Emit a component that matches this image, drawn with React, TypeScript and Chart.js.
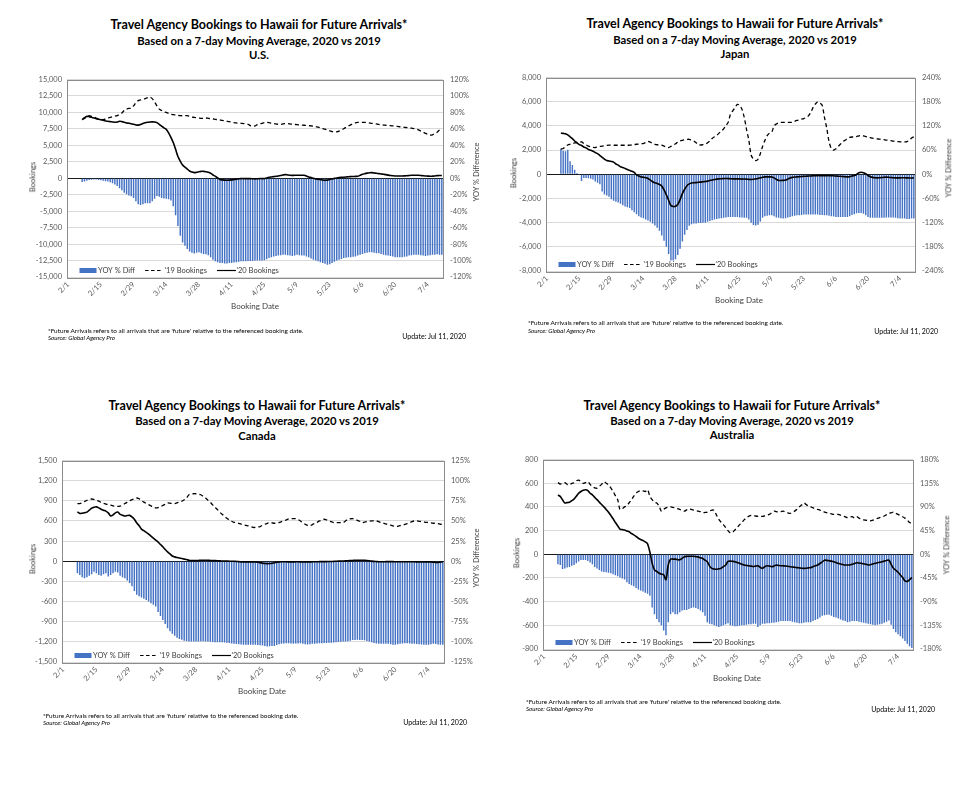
import React, { useEffect, useRef } from "react";
import { Chart, registerables } from "chart.js";

Chart.register(...registerables);
Chart.defaults.font.family = "Lato, 'Open Sans', sans-serif";

// ---------- categories ----------
const MONTHS = [2, 3, 4, 5, 6, 7];
const MONTH_LENGTHS = [29, 31, 30, 31, 30, 10];
const dates: string[] = [];
MONTHS.forEach((m, k) => {
  for (let d = 1; d <= MONTH_LENGTHS[k]; d++) dates.push(`${m}/${d}`);
});
const tickLabels = ["2/1", "2/15", "2/29", "3/14", "3/28", "4/11", "4/25", "5/9", "5/23", "6/6", "6/20", "7/4"];
const LEAD = 6; // series start on 2/7 (first 7-day average)

const legendLabels = ["YOY % Diff", "'19 Bookings", "'20 Bookings"];

// ---------- U.S. ----------
const usYoy = [
  -4.5, -4, -3, -2, -1.8, -1.5, -1.6, -2, -2.4, -3,
  -3.5, -4, -5, -6, -7.5, -9.5, -12, -14.5, -17.5, -19.5,
  -21, -22, -24, -28, -31.5, -32.5, -31.5, -30.5, -30.5, -30.5,
  -28, -25, -21.5, -22.5, -24, -24.5, -25, -25.5, -27, -34,
  -45, -58, -70, -78, -82, -86, -89, -90.5, -91.5, -90.5,
  -90, -91, -92, -92.5, -93.5, -96, -99, -101, -102, -103,
  -103, -103.5, -103.5, -103, -103, -102.5, -102, -101.5, -101, -101,
  -101, -100.5, -100.5, -100.5, -100, -100, -100, -100, -99.5, -98.5,
  -97, -96, -95, -94.5, -94, -93.5, -93, -93, -93.5, -94,
  -94.5, -94, -93, -93.5, -94, -94, -95, -96, -97.5, -99,
  -100, -101, -102, -103, -104, -105, -104.5, -103, -101.5, -100,
  -99, -98, -97, -96.5, -96, -96, -95.5, -95, -94, -93,
  -92, -91, -90.5, -90, -90, -90.5, -91, -91, -92, -93,
  -93.5, -94, -94.5, -95, -96, -96, -96, -96, -95.5, -95,
  -94, -93.5, -93, -93, -93, -93.5, -94, -94.5, -94, -93.5,
  -93, -93, -92.5, -93, -93,
];
const us2019 = [
  8900, 9100, 9300, 9500, 9400, 9300, 9150, 9000, 8950, 8900,
  9000, 9150, 9250, 9350, 9450, 9500, 9700, 9900, 10300, 10500,
  10600, 10650, 11000, 11500, 11800, 11900, 12000, 12100, 12250, 12350,
  12100, 11600, 11000, 10500, 10300, 10100, 10000, 9850, 9750, 9650,
  9600, 9550, 9500, 9500, 9500, 9500, 9400, 9300, 9250, 9200,
  9150, 9100, 9100, 9150, 9100, 9050, 9000, 8950, 8900, 8850,
  8800, 8700, 8650, 8600, 8500, 8450, 8400, 8350, 8350, 8300,
  8300, 8200, 8000, 7900, 7950, 8150, 8250, 8350, 8450, 8500,
  8450, 8350, 8300, 8250, 8200, 8170, 8250, 8300, 8300, 8250,
  8200, 8170, 8150, 8100, 8070, 8050, 8020, 8000, 7950, 7920,
  7850, 7750, 7670, 7550, 7450, 7320, 7200, 7100, 7020, 7050,
  7150, 7350, 7520, 7750, 7950, 8100, 8300, 8420, 8480, 8500,
  8500, 8480, 8450, 8400, 8350, 8320, 8250, 8180, 8120, 8080,
  8050, 8020, 7980, 7950, 7920, 7870, 7820, 7770, 7730, 7700,
  7670, 7600, 7550, 7480, 7350, 7170, 7000, 6820, 6680, 6570,
  6600, 6800, 7000, 7320, 7550,
];
const us2020 = [
  8900, 9200, 9400, 9350, 9250, 9150, 9050, 8950, 8900, 8800,
  8700, 8650, 8600, 8550, 8500, 8550, 8650, 8600, 8500, 8400,
  8350, 8270, 8200, 8100, 8070, 8150, 8300, 8420, 8500, 8550,
  8570, 8550, 8450, 8200, 7920, 7650, 7420, 6900, 6200, 5430,
  4400, 3300, 2600, 2000, 1690, 1400, 1100, 950, 850, 900,
  1000, 1050, 1050, 1000, 900, 750, 500, 300, 50, -200,
  -250, -280, -300, -280, -250, -200, -150, -100, -50, -50,
  -50, -50, -60, -80, -100, -80, -50, -50, -50, 50,
  150, 200, 250, 300, 350, 420, 500, 550, 500, 450,
  430, 450, 450, 450, 450, 450, 350, 200, 100, 0,
  -100, -150, -200, -270, -300, -280, -180, -100, -20, 50,
  100, 130, 150, 180, 230, 250, 270, 280, 300, 450,
  600, 700, 780, 830, 850, 800, 750, 700, 650, 600,
  550, 480, 420, 380, 350, 350, 350, 350, 360, 380,
  420, 450, 450, 450, 450, 420, 380, 350, 330, 300,
  320, 350, 400, 420, 400,
];

// ---------- Japan ----------
const jpYoy = [
  63, 58, 57, 61, 32, 23, 11, 3, -1.6, -17,
  -9, -9, -10, -11, -13, -18, -21, -25, -43, -50,
  -53, -56, -62, -66, -68, -70, -73, -77, -80, -82,
  -84, -89, -94, -99, -104, -107, -109, -112, -115, -118,
  -122, -127, -133, -140, -152, -165, -180, -198, -214, -214,
  -211, -200, -185, -167, -150, -138, -128, -124, -122, -122,
  -121, -121, -120, -120, -118, -116, -114, -112, -111, -110,
  -109, -108, -107, -106, -106, -106, -106, -106, -107, -107,
  -108, -108, -112, -120, -126, -127, -125, -117, -108, -104,
  -103, -102, -102, -104, -107, -108, -109, -110, -109, -107,
  -106, -104, -103, -102, -102, -101, -100, -100, -100, -100,
  -100, -100, -100, -101, -101, -102, -102, -103, -104, -105,
  -106, -106, -106, -106, -106, -106, -104, -101, -99, -97,
  -96, -96, -98, -102, -106, -108, -108, -108, -108, -108,
  -108, -108, -107, -107, -107, -107, -108, -109, -110, -110,
  -110, -111, -111, -110, -110,
];
const jp2019 = [
  2080, 2130, 2300, 2420, 2480, 2540, 2590, 2620, 2650, 2670,
  2550, 2430, 2330, 2270, 2220, 2210, 2250, 2300, 2320, 2360,
  2390, 2400, 2400, 2400, 2400, 2400, 2400, 2400, 2400, 2400,
  2400, 2420, 2450, 2480, 2500, 2520, 2540, 2620, 2720, 2650,
  2550, 2480, 2440, 2420, 2400, 2330, 2250, 2210, 2300, 2400,
  2520, 2650, 2750, 2810, 2850, 2880, 2890, 2820, 2750, 2600,
  2450, 2420, 2450, 2480, 2600, 2750, 2950, 3100, 3210, 3400,
  3560, 3750, 4020, 4300, 4970, 5250, 5510, 5780, 5700, 5370,
  4700, 3700, 2810, 1590, 1250, 1130, 1240, 1700, 2300, 2800,
  3200, 3400, 3480, 4000, 4160, 4250, 4290, 4290, 4290, 4290,
  4290, 4300, 4380, 4450, 4500, 4560, 4600, 4700, 4830, 5100,
  5510, 5800, 5990, 5900, 5700, 4700, 3800, 2700, 2130, 2000,
  2100, 2300, 2500, 2700, 2810, 2950, 3050, 3080, 3080, 3120,
  3180, 3210, 3180, 3120, 3080, 3030, 2980, 2940, 2920, 2900,
  2890, 2860, 2830, 2810, 2780, 2740, 2720, 2700, 2680, 2670,
  2680, 2700, 2800, 3000, 3100,
];
const jp2020 = [
  3400, 3380, 3350, 3250, 3100, 2950, 2750, 2600, 2450, 2380,
  2250, 2180, 2050, 1980, 1900, 1800, 1700, 1550, 1400, 1250,
  1130, 1100, 1060, 1000, 850, 750, 620, 560, 480, 400,
  320, 240, 150, -50, -150, -220, -250, -290, -350, -480,
  -620, -700, -760, -850, -970, -1300, -1700, -2150, -2590, -2670,
  -2650, -2500, -2100, -1600, -1240, -950, -800, -720, -700, -690,
  -660, -650, -620, -600, -570, -520, -470, -430, -400, -380,
  -370, -360, -350, -360, -370, -380, -380, -380, -380, -400,
  -390, -400, -420, -430, -420, -380, -350, -300, -250, -220,
  -220, -220, -220, -300, -420, -510, -520, -510, -480, -400,
  -320, -260, -230, -220, -200, -180, -170, -160, -150, -140,
  -130, -120, -110, -110, -110, -110, -110, -110, -120, -130,
  -150, -160, -170, -190, -210, -220, -200, -150, -110, -20,
  120, 160, 130, 50, -100, -200, -260, -290, -300, -290,
  -270, -250, -240, -250, -270, -290, -300, -300, -300, -290,
  -290, -300, -310, -310, -300,
];

// ---------- Canada ----------
const caYoy = [
  -15, -17, -20, -21, -20, -18, -16, -13, -15, -17,
  -18, -16, -15, -19, -17, -15, -13, -14, -18, -20,
  -21, -24, -27, -31, -37, -41.5, -43.5, -45, -46.5, -48,
  -50, -52, -54, -56, -63, -68, -73, -78, -83, -87,
  -90, -92.5, -95, -96.5, -97.5, -98.5, -99, -99.5, -99.5, -99.7,
  -99.7, -99.5, -99.3, -99.3, -99.5, -99.7, -100, -100.2, -100.4, -100.4,
  -100.4, -100.6, -100.8, -101, -101.5, -102, -102.5, -102.8, -103, -103.3,
  -103.5, -103.7, -103.7, -103.7, -103.7, -103.7, -104, -104.2, -104.5, -105,
  -105.7, -105.5, -105.2, -105, -104, -103, -102.5, -102, -101.7, -101.7,
  -102, -102.5, -102.2, -102, -101.7, -102.3, -103, -103.3, -103, -102.5,
  -102.5, -102, -101.7, -101.7, -101.5, -101.3, -101.2, -101, -100.9, -100.6,
  -100.3, -100, -99.7, -99.5, -99.2, -98.5, -97.8, -97.6, -97.5, -97.6,
  -97.6, -98, -99, -99.7, -100.5, -101.5, -102, -102.5, -102.5, -102.5,
  -102.5, -102.5, -103, -103.5, -103.7, -103, -102.5, -102, -101.8, -101.7,
  -102, -102.3, -102.5, -102.8, -103.1, -103.3, -103.5, -103.7, -103.5, -103,
  -102.5, -102.8, -103.2, -103.7, -103.5,
];
const ca2019 = [
  859, 859, 870, 890, 908, 920, 927, 920, 908, 895,
  875, 862, 852, 844, 835, 825, 820, 818, 820, 838,
  859, 880, 900, 917, 930, 942, 930, 903, 880, 860,
  844, 825, 805, 795, 800, 815, 830, 850, 869, 865,
  860, 859, 870, 885, 893, 915, 942, 990, 1000, 1005,
  1005, 1000, 990, 965, 942, 910, 878, 840, 805, 770,
  730, 698, 670, 640, 615, 595, 580, 576, 565, 551,
  545, 535, 527, 515, 505, 503, 510, 517, 535, 551,
  565, 576, 572, 566, 570, 576, 590, 600, 615, 630,
  634, 634, 634, 620, 600, 575, 551, 535, 527, 545,
  566, 580, 600, 612, 625, 615, 600, 590, 576, 576,
  576, 576, 576, 600, 625, 632, 634, 620, 610, 595,
  576, 583, 590, 595, 600, 600, 600, 590, 575, 566,
  555, 545, 537, 527, 517, 520, 530, 537, 548, 561,
  575, 590, 600, 600, 595, 590, 585, 580, 576, 570,
  566, 566, 560, 551, 548,
];
const ca2020 = [
  735, 712, 715, 722, 732, 760, 790, 805, 810, 795,
  775, 760, 747, 720, 675, 690, 720, 732, 698, 685,
  673, 680, 683, 660, 625, 570, 530, 478, 455, 430,
  405, 375, 345, 315, 285, 250, 215, 175, 140, 110,
  78, 65, 55, 49, 40, 32, 25, 15, 10, 10,
  10, 12, 14, 15, 15, 14, 12, 10, 10, 8,
  5, 4, 3, 2, 1, 0, 0, -3, -6, -10,
  -10, -10, -10, -10, -10, -12, -15, -20, -28, -34,
  -36, -34, -30, -22, -15, -10, -8, -8, -8, -10,
  -10, -10, -8, -8, -10, -12, -12, -10, -10, -8,
  -8, -8, -6, -6, -5, -5, -4, -4, -2, 0,
  2, 3, 4, 5, 8, 10, 12, 15, 16, 15,
  15, 14, 12, 8, 2, -2, -5, -8, -8, -8,
  -6, -5, -5, -6, -7, -8, -8, -8, -8, -8,
  -8, -7, -8, -10, -12, -12, -12, -10, -10, -12,
  -15, -18, -18, -12, -10,
];

// ---------- Australia ----------
const auYoy = [
  -19, -20.5, -28, -27, -25, -24, -22, -20.5, -17, -14,
  -11, -11, -11, -13, -15.5, -19, -24, -27, -30, -33,
  -33.5, -34, -35, -36, -38, -40, -42, -44, -46, -48,
  -53, -56.5, -59, -61, -64, -67, -69, -71, -73, -75,
  -79, -101, -114, -123, -129, -135, -145, -154, -129, -114,
  -110, -114, -114, -110, -107, -106, -106, -104, -102, -101,
  -102, -104, -107, -110, -117, -129, -132, -133, -135, -137,
  -138, -137, -135, -133, -131, -135, -136, -137, -137, -136,
  -135, -135, -134, -133, -133, -132, -132, -138, -135, -132,
  -132, -131, -131, -130, -130, -129, -128, -127, -127, -127,
  -127, -127, -128, -129, -130, -131, -131, -130, -129, -129,
  -129, -127, -125, -123, -120, -117, -116, -115, -115, -117,
  -119, -120, -122, -124, -126, -127, -129, -128, -127, -127,
  -127, -128, -129, -130, -131, -132, -133, -134, -135, -134,
  -133, -132, -130, -128, -126, -134, -142, -148, -152, -156,
  -160, -165, -170, -175, -178,
];
const au2019 = [
  605, 593, 600, 604, 590, 585, 598, 604, 620, 626,
  613, 599, 605, 613, 590, 571, 560, 558, 575, 590,
  613, 600, 585, 560, 530, 495, 461, 378, 385, 400,
  411, 435, 461, 490, 516, 530, 538, 535, 530, 544,
  490, 461, 440, 433, 406, 364, 380, 392, 398, 400,
  395, 392, 385, 378, 370, 364, 375, 384, 378, 373,
  368, 364, 360, 351, 353, 356, 365, 373, 370, 330,
  295, 270, 250, 225, 199, 180, 185, 205, 226, 248,
  268, 290, 309, 320, 328, 325, 323, 320, 317, 320,
  323, 330, 337, 350, 364, 360, 356, 360, 364, 355,
  350, 345, 355, 364, 380, 400, 415, 433, 420, 406,
  400, 392, 384, 378, 373, 365, 356, 350, 345, 341,
  337, 337, 337, 330, 323, 316, 309, 313, 317, 306,
  317, 305, 295, 290, 287, 284, 282, 288, 295, 302,
  309, 316, 323, 335, 345, 350, 356, 345, 337, 325,
  317, 305, 290, 268, 262,
];
const au2020 = [
  500, 489, 460, 433, 436, 439, 452, 466, 490, 515,
  530, 540, 544, 538, 515, 502, 480, 461, 440, 420,
  400, 378, 355, 328, 300, 268, 240, 213, 208, 204,
  197, 190, 175, 163, 150, 135, 125, 116, 105, 88,
  19, -77, -132, -145, -160, -168, -174, -215, -91, -41,
  -41, -41, -45, -47, -35, -22, -18, -17, -17, -17,
  -20, -22, -30, -36, -50, -63, -100, -119, -125, -127,
  -123, -119, -105, -91, -60, -58, -60, -63, -70, -77,
  -85, -91, -95, -97, -100, -105, -100, -97, -110, -119,
  -105, -97, -100, -105, -100, -91, -95, -97, -98, -99,
  -102, -105, -108, -110, -113, -115, -118, -119, -118, -115,
  -113, -105, -98, -91, -78, -65, -50, -52, -55, -58,
  -64, -70, -77, -82, -87, -91, -91, -91, -85, -78,
  -72, -74, -77, -80, -85, -91, -88, -82, -77, -72,
  -68, -63, -58, -52, -50, -85, -119, -135, -152, -175,
  -196, -225, -229, -215, -196,
];

// ---------- axis ranges ----------
const usAxis = { lmax: 15000, lstep: 2500, rmax: 120, rstep: 20 };
const jpAxis = { lmax: 8000, lstep: 2000, rmax: 240, rstep: 60 };
const caAxis = { lmax: 1500, lstep: 300, rmax: 125, rstep: 25 };
const auAxis = { lmax: 800, lstep: 200, rmax: 180, rstep: 45 };

type Geo = {
  l: number; t: number; w: number; h: number;
  titleX: number; titleY: number[];
  bookX: number; bookY: number; yoyX: number; yoyY: number;
  dateX: number; dateY: number;
  fnX: number; fnY: number[]; updR: number; updY: number;
};

type PanelDef = {
  region: string;
  yoy: number[]; y19: number[]; y20: number[];
  axis: { lmax: number; lstep: number; rmax: number; rstep: number };
  geo: Geo;
};

const panels: PanelDef[] = [
  {
    region: "U.S.", yoy: usYoy, y19: us2019, y20: us2020, axis: usAxis,
    geo: { l: 67, t: 76, w: 376, h: 201, titleX: 259, titleY: [25, 41, 55],
      bookX: 33, bookY: 177, yoyX: 477, yoyY: 172, dateX: 255, dateY: 306,
      fnX: 48, fnY: [331, 338], updR: 466, updY: 336 },
  },
  {
    region: "Japan", yoy: jpYoy, y19: jp2019, y20: jp2020, axis: jpAxis,
    geo: { l: 546, t: 74, w: 369, h: 197, titleX: 735, titleY: [24, 40, 54],
      bookX: 514, bookY: 173, yoyX: 949, yoyY: 168, dateX: 739, dateY: 300,
      fnX: 528, fnY: [323, 331], updR: 938, updY: 331 },
  },
  {
    region: "Canada", yoy: caYoy, y19: ca2019, y20: ca2020, axis: caAxis,
    geo: { l: 62, t: 457, w: 382, h: 205, titleX: 257, titleY: [406, 421, 436],
      bookX: 33, bookY: 559, yoyX: 477, yoyY: 558, dateX: 262, dateY: 691,
      fnX: 43, fnY: [716, 723], updR: 467, updY: 722 },
  },
  {
    region: "Australia", yoy: auYoy, y19: au2019, y20: au2020, axis: auAxis,
    geo: { l: 543, t: 456, w: 370, h: 193, titleX: 732, titleY: [406, 421, 435],
      bookX: 517, bookY: 553, yoyX: 947, yoyY: 545, dateX: 737, dateY: 678,
      fnX: 526, fnY: [702, 709], updR: 935, updY: 709 },
  },
];

const AX_L = 40, AX_R = 40, PAD_T = 8, AX_B = 26;
const BAR_BLUE = "#4472C4";
const TXT = "#404040";

function pad(a: number[]) {
  return [...Array(LEAD).fill(null), ...a];
}

const frameAndLegend = {
  id: "frameAndLegend",
  afterDatasetsDraw(chart: any) {
    const { ctx, chartArea: a } = chart;
    ctx.save();
    ctx.strokeStyle = "#8c8c8c";
    ctx.lineWidth = 1;
    ctx.strokeRect(Math.round(a.left) + 0.5, Math.round(a.top) + 0.5, Math.round(a.right - a.left), Math.round(a.bottom - a.top));
    // legend inside plot, bottom-left
    const y = a.bottom - 6.5;
    let x = a.left + 12.5;
    ctx.font = "7.5px Lato";
    ctx.textBaseline = "middle";
    ctx.textAlign = "left";
    ctx.fillStyle = BAR_BLUE;
    ctx.fillRect(x, y - 2.5, 17, 5);
    x += 18.5;
    ctx.fillStyle = TXT;
    ctx.fillText(legendLabels[0], x, y);
    x += ctx.measureText(legendLabels[0]).width + 10;
    ctx.strokeStyle = "#000";
    ctx.lineWidth = 1.2;
    ctx.setLineDash([3.5, 2.5]);
    ctx.beginPath(); ctx.moveTo(x, y); ctx.lineTo(x + 18, y); ctx.stroke();
    x += 19.5;
    ctx.fillText(legendLabels[1], x, y);
    x += ctx.measureText(legendLabels[1]).width + 10;
    ctx.setLineDash([]);
    ctx.beginPath(); ctx.moveTo(x, y); ctx.lineTo(x + 19, y); ctx.stroke();
    x += 19.5;
    ctx.fillText(legendLabels[2], x, y);
    ctx.restore();
  },
};

function ChartPanel({ p }: { p: PanelDef }) {
  const ref = useRef<HTMLCanvasElement>(null);
  const W = AX_L + p.geo.w + AX_R;
  const H = PAD_T + p.geo.h + AX_B;
  useEffect(() => {
    const tickFont = { size: 7.5, family: "Lato" };
    const chart = new Chart(ref.current as HTMLCanvasElement, {
      type: "bar",
      data: {
        labels: dates,
        datasets: [
          {
            type: "line", label: legendLabels[2], data: pad(p.y20) as any, yAxisID: "yL",
            borderColor: "#000", borderWidth: 1.6, pointRadius: 0, tension: 0.3, order: 1,
          },
          {
            type: "line", label: legendLabels[1], data: pad(p.y19) as any, yAxisID: "yL",
            borderColor: "#000", borderWidth: 1.3, borderDash: [4, 3], pointRadius: 0, tension: 0.3, order: 2,
          },
          {
            type: "bar", label: legendLabels[0], data: pad(p.yoy) as any, yAxisID: "yR",
            backgroundColor: BAR_BLUE, barPercentage: 0.62, categoryPercentage: 1, order: 3,
          },
        ] as any,
      },
      options: {
        animation: false,
        responsive: false,
        events: [],
        layout: { padding: { top: PAD_T, left: 0, right: 0, bottom: 0 } },
        plugins: { legend: { display: false }, tooltip: { enabled: false } },
        scales: {
          x: {
            type: "category",
            offset: true,
            grid: { display: false, drawTicks: false },
            border: { display: false },
            ticks: {
              autoSkip: false, maxRotation: 45, minRotation: 45, padding: 3,
              font: tickFont, color: "#595959",
              callback: (_v: any, i: number) => (tickLabels.includes(dates[i]) ? dates[i] : ""),
            },
            afterFit: (s: any) => { s.height = AX_B; },
          },
          yL: {
            position: "left",
            min: -p.axis.lmax, max: p.axis.lmax,
            ticks: {
              stepSize: p.axis.lstep, padding: 5, font: tickFont, color: "#595959",
              callback: (v: any) => Number(v).toLocaleString("en-US"),
            },
            grid: {
              drawTicks: false,
              color: (c: any) => (c.tick && c.tick.value === 0 ? "#1a1a1a" : "#d9d9d9"),
            },
            border: { display: false },
            afterFit: (s: any) => { s.width = AX_L; },
          },
          yR: {
            position: "right",
            min: -p.axis.rmax, max: p.axis.rmax,
            ticks: {
              stepSize: p.axis.rstep, padding: 7, font: tickFont, color: "#595959",
              callback: (v: any) => `${v}%`,
            },
            grid: { drawOnChartArea: false, drawTicks: false },
            border: { display: false },
            afterFit: (s: any) => { s.width = AX_R; },
          },
        },
      } as any,
      plugins: [frameAndLegend],
    });
    return () => chart.destroy();
  }, []);
  return (
    <canvas
      ref={ref}
      width={W}
      height={H}
      style={{ position: "absolute", left: p.geo.l - AX_L, top: p.geo.t - PAD_T, width: W, height: H }}
    />
  );
}

const baseText: React.CSSProperties = {
  position: "absolute",
  whiteSpace: "nowrap",
  fontFamily: "Lato, 'Open Sans', sans-serif",
  color: "#000",
  lineHeight: 1,
};

function Panel({ p }: { p: PanelDef }) {
  const g = p.geo;
  const titleLines = [
    { text: "Travel Agency Bookings to Hawaii for Future Arrivals*", size: 12.5 },
    { text: "Based on a 7-day Moving Average, 2020 vs 2019", size: 11.3 },
    { text: p.region, size: 11.3 },
  ];
  return (
    <>
      {titleLines.map((t, k) => (
        <div key={k} style={{ ...baseText, left: g.titleX, top: g.titleY[k], transform: "translate(-50%, -50%)", fontSize: t.size, fontWeight: 700 }}>
          {t.text}
        </div>
      ))}
      <ChartPanel p={p} />
      <div style={{ ...baseText, left: g.bookX, top: g.bookY, transform: "translate(-50%, -50%) rotate(-90deg)", fontSize: 7.5, color: TXT }}>Bookings</div>
      <div style={{ ...baseText, left: g.yoyX, top: g.yoyY, transform: "translate(-50%, -50%) rotate(-90deg)", fontSize: 7.5, color: TXT }}>YOY % Difference</div>
      <div style={{ ...baseText, left: g.dateX, top: g.dateY, transform: "translate(-50%, -50%)", fontSize: 8, color: TXT }}>Booking Date</div>
      <div style={{ ...baseText, left: g.fnX, top: g.fnY[0], transform: "translateY(-50%)", fontSize: 6.4 }}>
        *Future Arrivals refers to all arrivals that are 'future' relative to the referenced booking date.
      </div>
      <div style={{ ...baseText, left: g.fnX, top: g.fnY[1], transform: "translateY(-50%)", fontSize: 6.2, fontStyle: "italic" }}>
        Source: Global Agency Pro
      </div>
      <div style={{ ...baseText, left: g.updR, top: g.updY, transform: "translate(-100%, -50%)", fontSize: 7 }}>
        Update:  Jul 11, 2020
      </div>
    </>
  );
}

export default function App() {
  return (
    <div style={{ position: "absolute", left: 0, top: 0, width: 980, height: 786, background: "#fff", overflow: "hidden" }}>
      {panels.map((p) => (
        <Panel key={p.region} p={p} />
      ))}
    </div>
  );
}
